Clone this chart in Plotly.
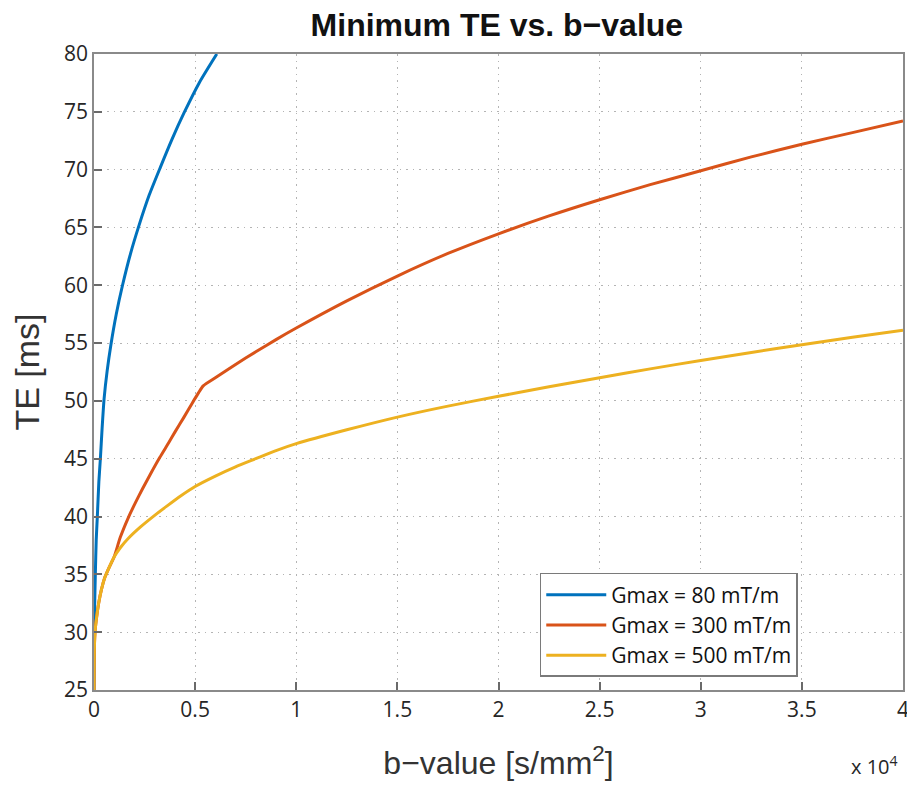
import plotly.graph_objects as go

# b-values [s/mm^2] and minimum TE [ms]
b_80 = [0, 3, 10, 20, 40, 66, 110, 165, 240, 315, 400, 500, 650, 830, 1100, 1410,
        1800, 2230, 2730, 3280, 3850, 4450, 5200, 6070]
te_80 = [25, 27, 29, 31, 33, 35, 38, 40, 43, 45, 47.6, 50.2, 52.6, 54.8, 57.5, 60,
         62.7, 65.2, 67.8, 70.2, 72.6, 74.9, 77.5, 80]

b_300 = [0, 5, 15, 35, 65, 130, 230, 370, 530, 750, 994, 1300, 1720, 2050, 2400,
         2800, 3250, 3700, 4000, 4450, 4870, 5150, 5400, 6000, 7000, 8000,
         9000, 10000, 12500, 15000, 17500, 20000, 22500, 25000,
         27500, 30000, 32500, 35000, 37500, 40000]
te_300 = [25, 26.8, 28.3, 29.5, 30.3, 31.3, 32.5, 33.7, 34.7, 35.6, 36.5, 38.2, 40, 41.2, 42.4,
          43.7, 45.1, 46.4, 47.3, 48.6, 49.85, 50.65, 51.3, 52.0, 53.15, 54.25,
          55.3, 56.3, 58.65, 60.8, 62.75, 64.45, 66.0, 67.4,
          68.7, 69.9, 71.1, 72.2, 73.2, 74.2]

b_500 = [0, 5, 15, 35, 65, 130, 230, 370, 530, 750, 994, 1300, 1690, 2300, 3000,
         3600, 4300, 5000, 6000, 7000, 8000, 9000, 10000, 12500, 15000, 17500,
         20000, 22500, 25000, 27500, 30000, 32500, 35000, 37500, 40000]
te_500 = [25, 26.8, 28.3, 29.5, 30.3, 31.3, 32.5, 33.7, 34.7, 35.6, 36.5, 37.3, 38.1, 39.1, 40.1,
          40.9, 41.8, 42.6, 43.5, 44.3, 45.0, 45.7, 46.3, 47.5, 48.6, 49.55,
          50.4, 51.22, 52.0, 52.77, 53.5, 54.19, 54.86, 55.5, 56.12]

series_names = ["Gmax = 80 mT/m", "Gmax = 300 mT/m", "Gmax = 500 mT/m"]
series_colors = ["#0072BD", "#D95319", "#EDB120"]

x_tickvals = [0, 5000, 10000, 15000, 20000, 25000, 30000, 35000, 40000]
x_ticktext = ["0", "0.5", "1", "1.5", "2", "2.5", "3", "3.5", "4"]
y_tickvals = [25, 30, 35, 40, 45, 50, 55, 60, 65, 70, 75, 80]

fig = go.Figure()
for xs, ys, name, col in zip([b_80, b_300, b_500], [te_80, te_300, te_500],
                             series_names, series_colors):
    fig.add_trace(go.Scatter(x=xs, y=ys, mode="lines", name=name,
                             line=dict(color=col, width=3, shape="spline", smoothing=0.6)))

axis_common = dict(
    showgrid=True, gridcolor="#b4b4b4", griddash="1.5px,5px", gridwidth=1.2,
    showline=True, linecolor="#8a8a8a", linewidth=1.5, mirror=True,
    ticks="inside", ticklen=8, tickcolor="#6a6a6a", tickwidth=1.5,
    zeroline=False, automargin=False,
    tickfont=dict(family="Open Sans, Lato, sans-serif", size=21, color="#262626"),
)

fig.update_layout(
    width=907, height=779,
    paper_bgcolor="white", plot_bgcolor="white",
    margin=dict(l=86, r=12, t=46, b=97),
    title=dict(text="<b>Minimum TE vs. b\u2212value</b>", x=0.539, xanchor="center",
               y=0.978, yanchor="middle",
               font=dict(family="Liberation Sans, Arial, sans-serif", size=32, color="#111111")),
    xaxis=dict(range=[0, 40000], tickvals=x_tickvals, ticktext=x_ticktext,
               title=dict(text="b\u2212value [s/mm<sup>2</sup>]", standoff=30,
                          font=dict(family="Liberation Sans, Arial, sans-serif", size=32, color="#333333")),
               **axis_common),
    yaxis=dict(range=[25, 80], tickvals=y_tickvals,
               title=dict(text="TE [ms]", standoff=15,
                          font=dict(family="Liberation Sans, Arial, sans-serif", size=34, color="#333333")),
               **axis_common),
    legend=dict(x=0.551, y=0.184, xanchor="left", yanchor="top",
                bgcolor="white", bordercolor="#7a7a7a", borderwidth=1.5,
                font=dict(family="Open Sans, Lato, sans-serif", size=21, color="#111111"),
                tracegroupgap=0, itemwidth=60),
    showlegend=True,
)

fig.add_annotation(text="x 10<sup>4</sup>", xref="paper", yref="paper",
                   x=0.996, y=-0.118, xanchor="right", yanchor="middle", showarrow=False,
                   font=dict(family="Open Sans, Lato, sans-serif", size=20, color="#262626"))

fig.write_html("out.html")
